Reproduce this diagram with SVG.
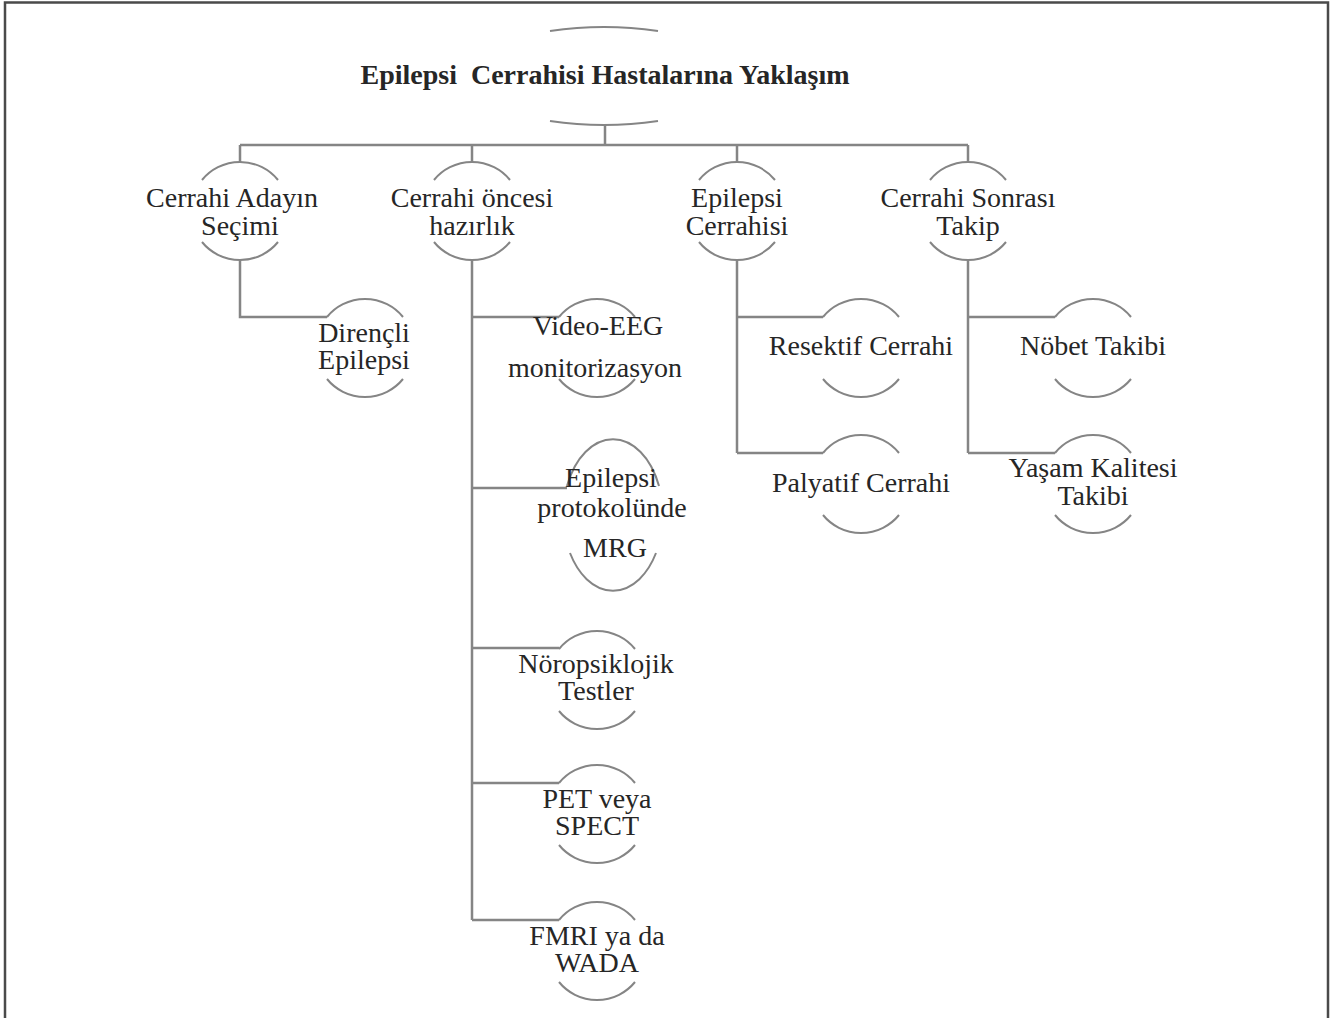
<svg xmlns="http://www.w3.org/2000/svg" width="1336" height="1018" viewBox="0 0 1336 1018">
<style>
.t{font-family:"Liberation Serif","Times New Roman",serif;font-size:28px;fill:#262626;text-anchor:middle}
.tb{font-weight:bold;white-space:pre}
.c{fill:none;stroke:#858585;stroke-width:2.5}
.a{fill:none;stroke:#858585;stroke-width:2}
.b{fill:none;stroke:#4a4a4a;stroke-width:2.5}
</style>
<defs>
<path id="arcs" class="a" d="M-38,-31 A49,49 0 0 1 38,-31 M-38,31 A49,49 0 0 0 38,31"/>
</defs>
<rect x="0" y="0" width="1336" height="1018" fill="#fff"/>
<path class="b" d="M5,1020 V2.5 H1328 V1020"/>
<g id="connectors">
<path class="c" d="M605,125 V145 M240,145 H968 M240,145 V162 M472,145 V162 M737,145 V162 M968,145 V162"/>
<path class="c" d="M240,260 V317 H327"/>
<path class="c" d="M472,260 V920 M472,317 H559 M472,488 H567 M472,648 H559 M472,783 H559 M472,920 H559"/>
<path class="c" d="M737,260 V453 M737,317 H823 M737,453 H823"/>
<path class="c" d="M968,260 V453 M968,317 H1055 M968,453 H1055"/>
</g>
<g id="title">
<path class="a" d="M550,31 Q604,23 658,31 M550,121 Q604,129 658,121"/>
<text class="t tb" x="605" y="84" xml:space="preserve">Epilepsi  Cerrahisi Hastalarına Yaklaşım</text>
</g>
<g id="n-aday"><use href="#arcs" x="240" y="211"/><text class="t" x="232" y="207">Cerrahi Adayın</text><text class="t" x="240" y="235">Seçimi</text></g>
<g id="n-oncesi"><use href="#arcs" x="472" y="211"/><text class="t" x="472" y="207">Cerrahi öncesi</text><text class="t" x="472" y="235">hazırlık</text></g>
<g id="n-cerrahi"><use href="#arcs" x="737" y="211"/><text class="t" x="737" y="207">Epilepsi</text><text class="t" x="737" y="235">Cerrahisi</text></g>
<g id="n-sonrasi"><use href="#arcs" x="968" y="211"/><text class="t" x="968" y="207">Cerrahi Sonrası</text><text class="t" x="968" y="235">Takip</text></g>
<g id="n-direncli"><use href="#arcs" x="365" y="348"/><text class="t" x="364" y="342">Dirençli</text><text class="t" x="364" y="369">Epilepsi</text></g>
<g id="n-eeg"><use href="#arcs" x="597" y="348"/><text class="t" x="598" y="335">Video-EEG</text><text class="t" x="595" y="377">monitorizasyon</text></g>
<g id="n-mrg"><path class="a" d="M567,486 A50,77 0 0 1 659,486 M570,553 A50,77 0 0 0 656,553"/><text class="t" x="611" y="487">Epilepsi</text><text class="t" x="612" y="517">protokolünde</text><text class="t" x="615" y="557">MRG</text></g>
<g id="n-noro"><use href="#arcs" x="597" y="680"/><text class="t" x="596" y="673">Nöropsiklojik</text><text class="t" x="596" y="700">Testler</text></g>
<g id="n-pet"><use href="#arcs" x="597" y="814"/><text class="t" x="597" y="808">PET veya</text><text class="t" x="597" y="835">SPECT</text></g>
<g id="n-fmri"><use href="#arcs" x="597" y="951"/><text class="t" x="597" y="945">FMRI ya da</text><text class="t" x="597" y="972">WADA</text></g>
<g id="n-resektif"><use href="#arcs" x="861" y="348"/><text class="t" x="861" y="355">Resektif Cerrahi</text></g>
<g id="n-palyatif"><use href="#arcs" x="861" y="484"/><text class="t" x="861" y="492">Palyatif Cerrahi</text></g>
<g id="n-nobet"><use href="#arcs" x="1093" y="348"/><text class="t" x="1093" y="355">Nöbet Takibi</text></g>
<g id="n-yasam"><use href="#arcs" x="1093" y="484"/><text class="t" x="1093" y="477">Yaşam Kalitesi</text><text class="t" x="1093" y="505">Takibi</text></g>
</svg>
